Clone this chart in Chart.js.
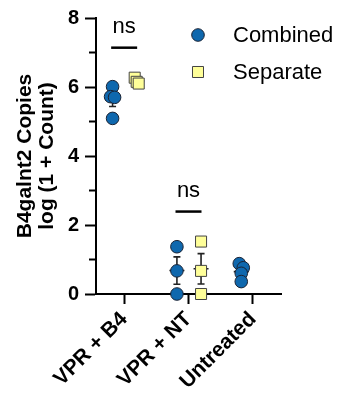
<!DOCTYPE html>
<html>
<head>
<meta charset="utf-8">
<script src="https://cdn.jsdelivr.net/npm/chart.js@4"></script>
<style>
  html, body { margin: 0; padding: 0; background: #fff; }
  #myChart { display: block; }
</style>
</head>
<body>
<canvas id="myChart" width="340" height="396"></canvas>
<script>
const categories = ["VPR + B4", "VPR + NT", "Untreated"];
const combinedValues = [[6.01, 5.72, 5.70, 5.09], [1.37, 0.67, 0], [0.88, 0.76, 0.60, 0.36]];
const separateValues = [[6.27, 6.15, 6.10], [1.52, 0.67, 0], []];
const yTickLabels = [0, 2, 4, 6, 8];
const yTitle = ["B4galnt2 Copies", "log (1 + Count)"];
const sigLabel = "ns";
const sigGroups = [0, 1];

const FONT = "'Liberation Sans', Arial, sans-serif";
const blue = "#0f68ae";
const yellow = "#ffff99";

const series = [
  { label: "Combined", values: combinedValues, offset: -0.18, fill: blue, stroke: "#1a2233", style: "circle", radius: 6.3 },
  { label: "Separate", values: separateValues, offset: 0.195, fill: yellow, stroke: "#444", style: "rect", radius: 7.8 },
];

// small sideways nudge for points that would sit on top of each other
const toPoints = (s) => {
  const pts = [];
  s.values.forEach((vals, i) => {
    vals.forEach((v, j) => {
      let before = 0, after = 0;
      vals.forEach((w, k) => {
        if (k !== j && Math.abs(w - v) < 0.15) k < j ? before++ : after++;
      });
      const nudge = (before - (before + after) / 2) * 4 / 64;
      pts.push({ x: i + s.offset + nudge, y: v });
    });
  });
  return pts;
};

const stats = (vals) => {
  const n = vals.length;
  const mean = vals.reduce((a, b) => a + b, 0) / n;
  const sd = Math.sqrt(vals.reduce((a, b) => a + (b - mean) ** 2, 0) / (n - 1));
  return { mean, sem: sd / Math.sqrt(n) };
};

const errorBars = {
  id: "errorBars",
  beforeDatasetsDraw(chart) {
    const { ctx, scales: { x, y } } = chart;
    ctx.save();
    ctx.strokeStyle = "#222";
    ctx.lineWidth = 1.6;
    series.forEach((s) => {
      s.values.forEach((vals, i) => {
        if (vals.length < 2) return;
        const { mean, sem } = stats(vals);
        const px = x.getPixelForValue(i + s.offset);
        const top = y.getPixelForValue(mean + sem);
        const bot = y.getPixelForValue(mean - sem);
        const mid = y.getPixelForValue(mean);
        ctx.beginPath();
        ctx.moveTo(px, top); ctx.lineTo(px, bot);
        ctx.moveTo(px - 3.5, top); ctx.lineTo(px + 3.5, top);
        ctx.moveTo(px - 3.5, bot); ctx.lineTo(px + 3.5, bot);
        ctx.moveTo(px - 7.5, mid); ctx.lineTo(px + 7.5, mid);
        ctx.stroke();
      });
    });
    ctx.restore();
  },
};

const extras = {
  id: "extras",
  afterDraw(chart) {
    const { ctx, scales: { x, y } } = chart;
    ctx.save();
    // minor ticks on y axis
    ctx.strokeStyle = "#000";
    ctx.lineWidth = 2;
    for (let v = 1; v < 8; v += 2) {
      const py = y.getPixelForValue(v);
      ctx.beginPath();
      ctx.moveTo(x.left - 7, py); ctx.lineTo(x.left, py);
      ctx.stroke();
    }
    // significance marks
    ctx.font = "22px " + FONT;
    ctx.fillStyle = "#000";
    ctx.textAlign = "center";
    ctx.textBaseline = "middle";
    sigGroups.forEach((i) => {
      const all = combinedValues[i].concat(separateValues[i]);
      const lineY = y.getPixelForValue(Math.max(...all)) - 30;
      const cx = x.getPixelForValue(i);
      ctx.lineWidth = 2.5;
      ctx.beginPath();
      ctx.moveTo(cx - 13, lineY); ctx.lineTo(cx + 13, lineY);
      ctx.stroke();
      ctx.fillText(sigLabel, cx, lineY - 21);
    });
    // legend
    ctx.textAlign = "left";
    series.forEach((s, k) => {
      const ly = 35 + k * 37;
      ctx.fillStyle = s.fill;
      ctx.strokeStyle = s.stroke;
      ctx.lineWidth = 1;
      ctx.beginPath();
      if (s.style === "circle") ctx.arc(198, ly, s.radius, 0, Math.PI * 2);
      else { const h = s.radius * Math.SQRT1_2; ctx.rect(198 - h, ly - h, 2 * h, 2 * h); }
      ctx.fill(); ctx.stroke();
      ctx.fillStyle = "#000";
      ctx.fillText(s.label, 233, ly + 1);
    });
    ctx.restore();
  },
};

Chart.defaults.font.family = FONT;
Chart.defaults.color = "#000";

const ctx = document.getElementById("myChart");
const chart = new Chart(ctx, {
  type: "scatter",
  data: {
    datasets: series.map((s) => ({
      label: s.label,
      data: toPoints(s),
      pointStyle: s.style,
      pointRadius: s.radius,
      pointHoverRadius: s.radius,
      backgroundColor: s.fill,
      borderColor: s.stroke,
      borderWidth: 1,
      clip: false,
    })),
  },
  options: {
    responsive: false,
    animation: false,
    devicePixelRatio: 1,
    layout: { padding: { left: 0, top: 17, right: 59, bottom: 0 } },
    plugins: {
      legend: { display: false },
      tooltip: { enabled: false },
    },
    scales: {
      x: {
        type: "linear",
        min: -0.4375,
        max: 2.4375,
        afterBuildTicks: (scale) => {
          scale.ticks = categories.map((c, i) => ({ value: i }));
        },
        afterFit: (scale) => { scale.height = 102; },
        border: { color: "#000", width: 2 },
        grid: { drawOnChartArea: false, tickLength: 10, tickWidth: 2, tickColor: "#000" },
        ticks: {
          autoSkip: false,
          minRotation: 45,
          maxRotation: 45,
          padding: 3,
          font: { size: 21, weight: "bold" },
          callback: (v) => categories[v] ?? "",
        },
      },
      y: {
        min: 0,
        max: 8,
        afterFit: (scale) => { scale.width = 96; },
        border: { color: "#000", width: 2 },
        grid: {
          drawOnChartArea: false,
          tickLength: 11,
          tickWidth: 2,
          tickColor: (c) => (yTickLabels.includes(c.tick.value) ? "#000" : "rgba(0,0,0,0)"),
        },
        ticks: {
          stepSize: 1,
          padding: 6,
          font: { size: 20, weight: "bold" },
          callback: (v) => (yTickLabels.includes(v) ? v : ""),
        },
        title: {
          display: true,
          text: yTitle,
          font: { size: 21, weight: "bold", lineHeight: 1.05 },
          padding: { top: 14, bottom: 0 },
        },
      },
    },
  },
  plugins: [errorBars, extras],
});
</script>
</body>
</html>
